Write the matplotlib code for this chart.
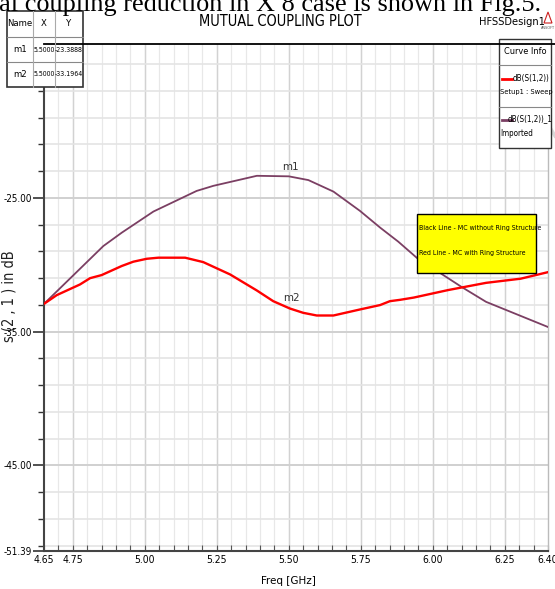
import matplotlib
matplotlib.use("Agg")
import matplotlib.pyplot as plt
from matplotlib import font_manager
from matplotlib.patches import Rectangle, Polygon
import numpy as np

# ------------------------------------------
# Données
# ------------------------------------------
freq_imported = [4.65, 4.856, 4.92, 5.03, 5.18, 5.238, 5.389, 5.50, 5.568, 5.655,
                 5.747, 5.817, 5.88, 5.945, 6.101, 6.185, 6.281, 6.40]
db_imported = [-32.92, -28.60, -27.60, -26.02, -24.48, -24.10, -23.35, -23.39, -23.67, -24.53,
               -25.97, -27.22, -28.27, -29.49, -31.67, -32.77, -33.61, -34.65]

freq_sweep = [4.65, 4.694, 4.775, 4.81, 4.85, 4.92, 4.96, 5.007, 5.047, 5.14,
              5.203, 5.296, 5.389, 5.446, 5.504, 5.55, 5.597, 5.655, 5.747, 5.817,
              5.851, 5.886, 5.934, 6.053, 6.185, 6.305, 6.40]
db_sweep = [-32.92, -32.27, -31.47, -31.0, -30.77, -30.09, -29.77, -29.55, -29.47, -29.47,
            -29.80, -30.72, -31.92, -32.72, -33.27, -33.59, -33.79, -33.79, -33.34, -33.01,
            -32.72, -32.62, -32.45, -31.89, -31.35, -31.04, -30.55]

marker_names = ["m1", "m2"]
marker_x = [5.5000, 5.5000]
marker_y = [-23.3888, -33.1964]

x_major = [4.65, 4.75, 5.00, 5.25, 5.50, 5.75, 6.00, 6.25, 6.40]
y_major = [-25.0, -35.0, -45.0, -51.39]

# police étroite : on cherche une face condensée installée, sinon Liberation Sans
narrow_file = None
for f in font_manager.fontManager.ttflist:
    if ("Narrow" in f.name or "Condensed" in f.fname) and "Bold" not in f.fname \
            and "Oblique" not in f.fname and "Italic" not in f.fname:
        narrow_file = f.fname
        break
if narrow_file:
    NP = font_manager.FontProperties(fname=narrow_file)
    K = 1.1
else:
    NP = font_manager.FontProperties(family="Liberation Sans")
    K = 1.0
SERIF = "Liberation Serif"


def fp(size):
    p = NP.copy()
    p.set_size(size * K)
    return p


W, H = 555, 589
fig = plt.figure(figsize=(W / 100, H / 100), dpi=100)

# axes principal (coordonnées pixels -> fraction)
L, R, T, B = 44, 548, 44, 551
ax = fig.add_axes([L / W, 1 - B / H, (R - L) / W, (B - T) / H])
ax.set_xlim(4.65, 6.40)
ax.set_ylim(-51.39, -13.5)

# grille
for xv in np.arange(4.70, 6.40, 0.05):
    ax.axvline(xv, color="#e8e8e8", lw=0.9, zorder=0)
for xv in [4.75, 5.00, 5.25, 5.50, 5.75, 6.00, 6.25]:
    ax.axvline(xv, color="#d2d2d2", lw=1.0, zorder=0)
for yv in np.arange(-51, -14, 2):
    ax.axhline(yv, color="#e4e4e4", lw=1.2, zorder=0)
for yv in [-25, -35, -45]:
    ax.axhline(yv, color="#cfcfcf", lw=1.3, zorder=0)

ax.plot(freq_imported, db_imported, color="#7b3f63", lw=1.3, zorder=3)
ax.plot(freq_sweep, db_sweep, color="#ff0000", lw=1.7, zorder=4)

for nom, mx, my in zip(marker_names, marker_x, marker_y):
    ax.annotate(nom, (mx, my), xytext=(1.5, 3), textcoords="offset points",
                fontproperties=fp(7.5), color="#333333", ha="center", va="bottom")

# ticks
ax.set_xticks(x_major)
ax.set_xticklabels(["%.2f" % v for v in x_major], fontproperties=fp(6.8))
ax.set_xticks(np.arange(4.70, 6.40, 0.05), minor=True)
ax.set_yticks(y_major)
ax.set_yticklabels(["%.2f" % v for v in y_major], fontproperties=fp(6.5))
ax.set_yticks(np.arange(-51, -14, 2), minor=True)
ax.tick_params(axis="x", which="both", direction="in", length=4, width=0.8,
               color="#555555", pad=3)
ax.tick_params(axis="y", which="major", direction="out", length=8, width=1.2,
               color="#333333", pad=1)
ax.tick_params(axis="y", which="minor", direction="out", length=4, width=1.0, color="#333333")

for s in ["left", "bottom"]:
    ax.spines[s].set_color("#444444")
    ax.spines[s].set_linewidth(1.5)
ax.spines["right"].set_color("#bbbbbb")
ax.spines["right"].set_linewidth(1.0)
ax.spines["top"].set_visible(False)

ax.set_xlabel("Freq [GHz]", fontproperties=fp(7.5))
ax.xaxis.set_label_coords((288 - L) / (R - L), -(576 - B) / (B - T))
ax.set_ylabel("s (2 , 1 ) in dB", fontproperties=fp(9.5), color="#222222")
ax.yaxis.set_label_coords(-(L - 17) / (R - L), (B - 296) / (B - T))

# calque en pixels pour les éléments de mise en page
ov = fig.add_axes([0, 0, 1, 1], zorder=5)
ov.set_xlim(0, W)
ov.set_ylim(H, 0)
ov.axis("off")
ov.patch.set_alpha(0)

# texte de page coupé en haut
ov.text(-14, 11, "ual coupling reduction in X 8 case is shown in Fig.5.",
        family=SERIF, fontsize=18.9, ha="left", va="baseline", color="black")

ov.plot([44, 555], [44, 44], color="black", lw=1.3)
ov.text(280, 22, "MUTUAL COUPLING PLOT", fontproperties=fp(9.5), ha="center", va="center")
ov.text(512, 22, "HFSSDesign1", fontproperties=fp(7.2), ha="center", va="center")
ov.add_patch(Polygon([[544, 23], [548, 12], [552, 23]], closed=True, fill=False,
                     edgecolor="#cc2020", lw=0.8))
ov.text(548, 28, "ANSOFT", fontsize=2.5, ha="center", va="center", color="#555555")
ov.plot([536, 555], [104, 136], color="#d8d8d8", lw=2.5, zorder=0)

# tableau des marqueurs
ov.add_patch(Rectangle((7, 11), 76, 76, facecolor="white", edgecolor="#333333", lw=1.2))
for yy in [37, 62]:
    ov.plot([7, 83], [yy, yy], color="#888888", lw=0.8)
for xx in [33, 55]:
    ov.plot([xx, xx], [11, 87], color="#aaaaaa", lw=0.8)
entete = ["Name", "X", "Y"]
centres = [20, 44, 69]
for c, t in zip(centres, entete):
    ov.text(c, 24, t, fontproperties=fp(6.2), ha="center", va="center")
for i, (nom, mx, my) in enumerate(zip(marker_names, marker_x, marker_y)):
    yy = 49.5 + 25 * i
    ov.text(centres[0], yy, nom, fontproperties=fp(6.2), ha="center", va="center")
    ov.text(centres[1], yy, "%.4f" % mx, fontproperties=fp(4.6), ha="center", va="center")
    ov.text(centres[2], yy, "%.4f" % my, fontproperties=fp(4.6), ha="center", va="center")

# boîte Curve Info
ov.add_patch(Rectangle((499, 39), 52, 109, facecolor="white", edgecolor="#333333", lw=1.0))
for yy in [65, 107]:
    ov.plot([499, 551], [yy, yy], color="#888888", lw=0.8)
ov.text(525, 52, "Curve Info", fontproperties=fp(6.0), ha="center", va="center")
ov.plot([502, 512], [79, 79], color="#ff0000", lw=2)
ov.text(549, 78, "dB(S(1,2))", fontproperties=fp(5.2), ha="right", va="center")
ov.text(500, 92, "Setup1 : Sweep", fontproperties=fp(4.9), ha="left", va="center")
ov.plot([502, 512], [120, 120], color="#7b3f63", lw=2)
ov.text(552, 119, "dB(S(1,2))_1", fontproperties=fp(5.2), ha="right", va="center")
ov.text(500, 134, "Imported", fontproperties=fp(5.2), ha="left", va="center")

# note jaune
ov.add_patch(Rectangle((417, 214), 119, 59, facecolor="#ffff00", edgecolor="black", lw=1.0))
ov.text(419, 228, "Black Line - MC without Ring Structure", fontproperties=fp(4.6),
        ha="left", va="center")
ov.text(419, 253, "Red Line - MC with Ring Structure", fontproperties=fp(4.6),
        ha="left", va="center")

fig.savefig("out.png", dpi=100)
